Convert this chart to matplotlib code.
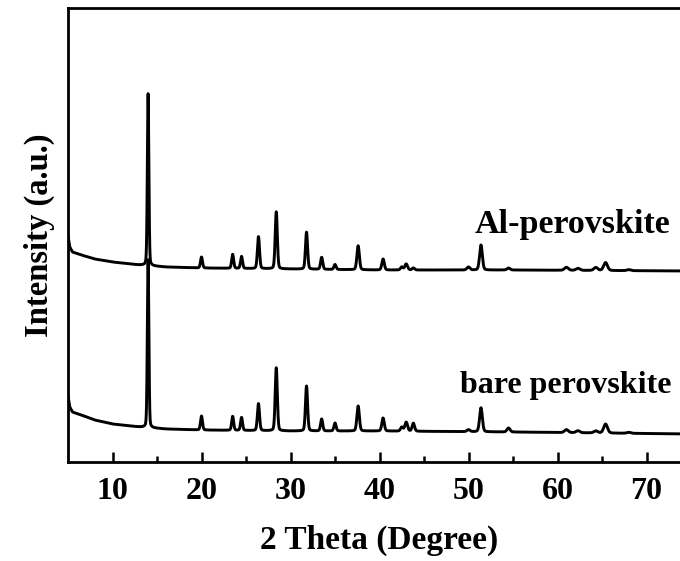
import numpy as np
import matplotlib
matplotlib.use("Agg")
import matplotlib.pyplot as plt

plt.rcParams['font.family'] = ['Liberation Serif', 'DejaVu Serif']
plt.rcParams['font.weight'] = 'bold'

# Peak positions (2 theta, degree)
peak_pos = [14.0, 20.0, 23.5, 24.5, 26.4, 28.4, 31.8, 33.5, 35.0, 37.6,
            40.4, 42.5, 43.0, 43.8, 50.0, 51.4, 54.5, 61.0, 62.3, 64.3, 65.4, 68.0]
peak_width = [0.10, 0.13, 0.13, 0.13, 0.14, 0.14, 0.14, 0.14, 0.14, 0.16,
              0.16, 0.16, 0.18, 0.16, 0.2, 0.18, 0.2, 0.25, 0.25, 0.25, 0.25, 0.25]

# Al-perovskite: peak heights above baseline and baseline knots
al_heights = [172, 11, 14, 12, 32, 57, 37, 12, 5, 24,
              11, 3, 6, 2, 3, 25, 2, 3, 2, 3, 8, 1]
al_base_x = [5.0, 5.2, 5.5, 6.5, 8.0, 10.0, 13.0, 16.0, 20.0, 30.0, 40.0, 55.0, 75.0]
al_base_y = [226, 215, 210, 207, 203, 200, 197, 195, 194, 193, 192, 192, 191]

# bare perovskite
bare_heights = [168, 14, 14, 13, 27, 63, 45, 12, 8, 25,
                13, 4, 9, 8, 2, 24, 4, 3, 2, 2, 9, 1]
bare_base_x = [5.0, 5.2, 5.5, 6.5, 8.0, 10.0, 13.0, 16.0, 20.0, 30.0, 40.0, 55.0, 75.0]
bare_base_y = [66, 55, 50, 47, 42, 38, 35, 33, 32, 31, 31, 30, 28]

x_ticks = [10, 20, 30, 40, 50, 60, 70]
x_minor = [15, 25, 35, 45, 55, 65, 75]

x = np.linspace(5.0, 75.0, 7001)


def pattern(heights, bx, by):
    y = np.interp(x, bx, by)
    for p, h, w in zip(peak_pos, heights, peak_width):
        g = np.exp(-np.log(2) * ((x - p) / w) ** 2)
        lz = 1.0 / (1.0 + ((x - p) / w) ** 2)
        y = y + h * (0.8 * g + 0.2 * lz)
    return y


fig = plt.figure(figsize=(6.8, 5.61), dpi=100)
ax = fig.add_axes([68 / 680, 99 / 561, (691 - 68) / 680, (462 - 8) / 561])

ax.plot(x, pattern(al_heights, al_base_x, al_base_y), color='black', lw=2.1)
ax.plot(x, pattern(bare_heights, bare_base_x, bare_base_y), color='black', lw=2.1)

ax.set_xlim(5, 75)
ax.set_ylim(0, 454)
ax.set_xticks(x_ticks)
ax.set_xticks(x_minor, minor=True)
ax.set_yticks([])
ax.tick_params(axis='x', which='major', direction='in', length=7, width=1.8,
               labelsize=23, pad=11, top=False)
ax.tick_params(axis='x', which='minor', direction='in', length=4, width=1.8, top=False)
for lab in ax.get_xticklabels():
    lab.set_fontweight('bold')
for s in ax.spines.values():
    s.set_linewidth(2.0)

ax.set_xlabel('2 Theta (Degree)', fontsize=24, fontweight='bold', labelpad=13)
ax.set_ylabel('Intensity (a.u.)', fontsize=23.5, fontweight='bold', labelpad=9)

ax.text(50.7, 237, 'Al-perovskite', fontsize=24.5, fontweight='bold', va='center', ha='left')
ax.text(49.0, 77, 'bare perovskite', fontsize=23, fontweight='bold', va='center', ha='left')

fig.savefig('out.png', dpi=100)
